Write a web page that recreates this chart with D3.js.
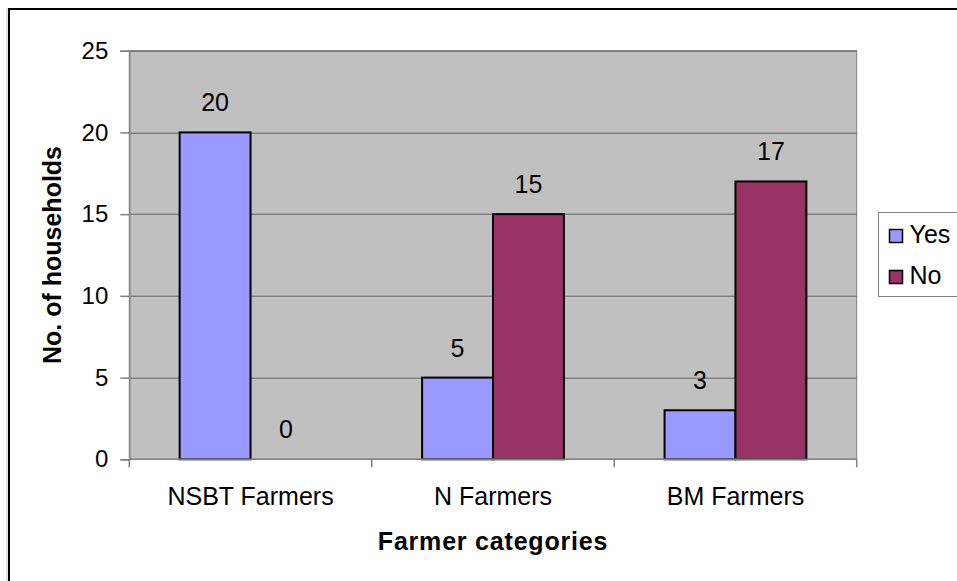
<!DOCTYPE html>
<html>
<head>
<meta charset="utf-8">
<script src="https://cdnjs.cloudflare.com/ajax/libs/d3/7.8.5/d3.min.js"></script>
<style>
    body { margin: 0; background: #fff; }
    svg { display: block; font-family: "Liberation Sans", Arial, sans-serif; }
</style>
</head>
<body>
<svg id="chart" width="957" height="581"></svg>
<script>
// chart data
var categories = ["NSBT Farmers", "N Farmers", "BM Farmers"]
var seriesNames = ["Yes", "No"]
var yesValues = [20, 5, 3]
var noValues = [0, 15, 17]
var yTicks = [0, 5, 10, 15, 20, 25]
var seriesColors = ["#9999FF", "#993366"]

function translate(x, y) {
    return "translate(" + x + "," + y + ")"
}

function drawChart() {
    var svg = d3.select("#chart"),
        margin = { top: 50.7, right: 100.3, bottom: 121.7, left: 129.3 },
        width = +svg.attr("width") - margin.left - margin.right,
        height = +svg.attr("height") - margin.top - margin.bottom

    // outer frame (runs past the picture on right and bottom)
    svg.append("rect")
        .attr("x", 7).attr("y", 9)
        .attr("width", 1000).attr("height", 700)
        .attr("fill", "none").attr("stroke", "#c8c8c8").attr("stroke-width", 1)
    svg.append("rect")
        .attr("x", 9).attr("y", 9)
        .attr("width", 1000).attr("height", 700)
        .attr("fill", "none").attr("stroke", "#000").attr("stroke-width", 2)

    var rows = categories.map(function (c, i) {
        return { cat: c, values: [yesValues[i], noValues[i]] }
    })

    var x0 = d3.scaleBand().domain(categories).range([0, width]).padding(0)
    var x1 = d3.scaleBand().domain(seriesNames).range([0, x0.bandwidth()])
        .paddingInner(0).paddingOuter(0.71)
    var y = d3.scaleLinear().domain([0, 25]).range([height, 0])

    var g = svg.append("g").attr("transform", translate(margin.left, margin.top))

    // plot area
    g.append("rect")
        .attr("width", width).attr("height", height)
        .attr("fill", "#C0C0C0").attr("stroke", "#808080").attr("stroke-width", 1)

    // gridlines
    g.append("g").selectAll("line")
        .data(yTicks.filter(function (d) { return d > 0 }))
        .enter().append("line")
        .attr("x1", 0).attr("x2", width)
        .attr("y1", function (d) { return Math.round(y(d)) + 0.5 })
        .attr("y2", function (d) { return Math.round(y(d)) + 0.5 })
        .attr("stroke", "#606060").attr("stroke-width", 1)

    // bars
    var groups = g.append("g").selectAll(".grp")
        .data(rows)
        .enter().append("g")
        .attr("transform", function (d) { return translate(x0(d.cat), 0) })

    groups.selectAll("rect")
        .data(function (d) {
            return d.values.map(function (v, i) { return { key: seriesNames[i], value: v, idx: i } })
        })
        .enter().append("rect")
        .filter(function (d) { return d.value > 0 })
        .attr("x", function (d) { return x1(d.key) })
        .attr("width", x1.bandwidth())
        .attr("y", function (d) { return y(d.value) })
        .attr("height", function (d) { return height - y(d.value) })
        .attr("fill", function (d) { return seriesColors[d.idx] })
        .attr("stroke", "#000").attr("stroke-width", 2)

    // data labels
    groups.selectAll("text")
        .data(function (d) {
            return d.values.map(function (v, i) { return { key: seriesNames[i], value: v } })
        })
        .enter().append("text")
        .attr("x", function (d) { return x1(d.key) + x1.bandwidth() / 2 })
        .attr("y", function (d) { return y(d.value) - 21 })
        .attr("text-anchor", "middle")
        .attr("font-size", 25)
        .text(function (d) { return d.value })

    // y axis
    var yAxis = g.append("g")
        .call(d3.axisLeft(y).tickValues(yTicks).tickSize(9).tickPadding(12))
    yAxis.select(".domain").attr("stroke", "#808080").attr("stroke-width", 1.5)
    yAxis.selectAll(".tick line").attr("stroke", "#808080").attr("stroke-width", 1.5)
    yAxis.selectAll(".tick text")
        .attr("font-size", 24).attr("fill", "#000")
        .attr("font-family", "Liberation Sans, Arial, sans-serif")

    // x axis: ticks at category boundaries
    var xg = g.append("g").attr("transform", translate(0, height))
    xg.append("line").attr("x1", 0).attr("x2", width)
        .attr("stroke", "#808080").attr("stroke-width", 1.5)
    xg.selectAll(".xtick")
        .data(categories.concat(["end"]))
        .enter().append("line")
        .attr("x1", function (d, i) { return i * x0.step() })
        .attr("x2", function (d, i) { return i * x0.step() })
        .attr("y1", 0).attr("y2", 8)
        .attr("stroke", "#808080").attr("stroke-width", 1.5)
    xg.selectAll(".xlab")
        .data(categories)
        .enter().append("text")
        .attr("x", function (d) { return x0(d) + x0.bandwidth() / 2 })
        .attr("y", 46)
        .attr("text-anchor", "middle")
        .attr("font-size", 25)
        .text(function (d) { return d })

    // axis titles
    svg.append("text")
        .attr("x", margin.left + width / 2).attr("y", 550)
        .attr("text-anchor", "middle")
        .attr("font-size", 25).attr("font-weight", "bold")
        .attr("letter-spacing", 0.8)
        .text("Farmer categories")

    svg.append("text")
        .attr("transform", translate(61, margin.top + height / 2) + " rotate(-90)")
        .attr("text-anchor", "middle")
        .attr("font-size", 25).attr("font-weight", "bold")
        .text("No. of households")

    // legend
    var lg = svg.append("g").attr("transform", translate(878.5, 212.5))
    lg.append("rect")
        .attr("width", 200).attr("height", 84)
        .attr("fill", "#fff").attr("stroke", "#808080").attr("stroke-width", 1)
    var items = lg.selectAll(".item")
        .data(seriesNames)
        .enter().append("g")
        .attr("transform", function (d, i) { return translate(11, 17 + i * 41) })
    items.append("rect")
        .attr("width", 13).attr("height", 13)
        .attr("fill", function (d, i) { return seriesColors[i] })
        .attr("stroke", "#000").attr("stroke-width", 1.5)
    items.append("text")
        .attr("x", 20).attr("y", 13)
        .attr("font-size", 25)
        .text(function (d) { return d })
}

drawChart()
</script>
</body>
</html>
